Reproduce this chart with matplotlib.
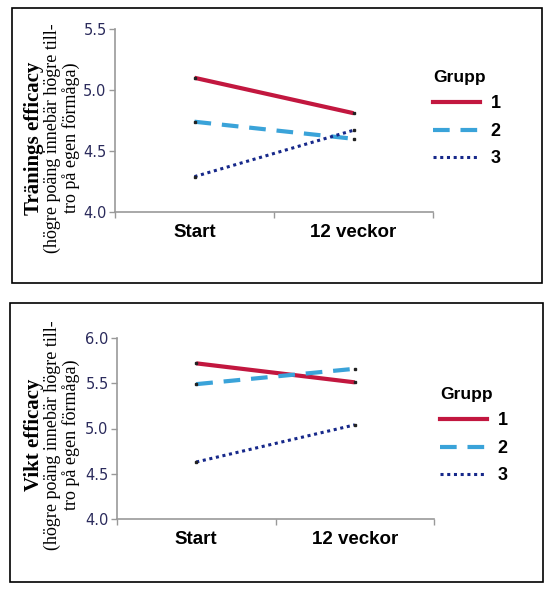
import matplotlib.pyplot as plt
from matplotlib.patches import Rectangle
from matplotlib.lines import Line2D

# data
categories = ["Start", "12 veckor"]
groups = ["1", "2", "3"]
traning = {"1": [5.10, 4.81], "2": [4.74, 4.60], "3": [4.29, 4.67]}
vikt = {"1": [5.72, 5.51], "2": [5.49, 5.66], "3": [4.63, 5.04]}
titles = ["Tränings efficacy", "Vikt efficacy"]
subtitle = "(högre poäng innebär högre till-\ntro på egen förmåga)"

W, H = 551, 593
colors = {"1": "#c2173f", "2": "#3aa3d9", "3": "#16288a"}
styles = {"1": "-", "2": (0, (4.0, 2.6)), "3": (0, (1.0, 1.2))}
widths = {"1": 3.0, "2": 3.0, "3": 2.2}


def px(x0, y0, x1, y1):
    """pixel box (top-left origin) -> figure rect"""
    return [x0 / W, 1 - y1 / H, (x1 - x0) / W, (y1 - y0) / H]


def panel(fig, box, axbox, data, ylim, yticks, title, legpos, labelcy):
    fig.patches.append(Rectangle((box[0] / W, 1 - box[3] / H), (box[2] - box[0]) / W,
                                 (box[3] - box[1]) / H, transform=fig.transFigure,
                                 fill=False, edgecolor="black", lw=1.2))
    ax = fig.add_axes(px(*axbox))
    for g in groups:
        ax.plot([0, 1], data[g], color=colors[g], linestyle=styles[g],
                lw=widths[g], dash_capstyle="butt", solid_capstyle="butt")
        ax.plot([0, 1], data[g], linestyle="none", marker="s", ms=2,
                color="#222222")
    ax.set_xlim(-0.5, 1.5)
    ax.set_ylim(*ylim)
    ax.set_yticks(yticks)
    ax.set_yticklabels([f"{t:.1f}" for t in yticks], color="#2b2b5c",
                       fontsize=10.5, family="DejaVu Sans")
    ax.set_xticks([0, 1])
    ax.set_xticklabels(categories, fontsize=13.5, fontweight="bold",
                       family="Liberation Sans")
    ax.set_xticks([-0.5, 0.5, 1.5], minor=True)
    ax.tick_params(axis="x", which="major", length=0, pad=9)
    ax.tick_params(axis="x", which="minor", length=4, color="#999999", width=1)
    ax.tick_params(axis="y", length=4, color="#999999", width=1, pad=2)
    for s in ["top", "right"]:
        ax.spines[s].set_visible(False)
    for s in ["left", "bottom"]:
        ax.spines[s].set_color("#999999")
        ax.spines[s].set_linewidth(1.2)

    cy = 1 - labelcy / H
    fig.text(34 / W, cy, title, rotation=90, ha="center", va="center",
             fontsize=15, fontweight="bold", family="Liberation Serif")
    fig.text(62 / W, cy, subtitle, rotation=90, ha="center", va="center",
             fontsize=13, family="Liberation Serif", linespacing=1.12,
             multialignment="center")

    handles = [Line2D([], [], color=colors[g], linestyle=styles[g], lw=widths[g],
                      dash_capstyle="butt") for g in groups]
    fig.legend(handles, groups, loc="upper left",
               bbox_to_anchor=(legpos[0] / W, 1 - legpos[1] / H),
               frameon=False, title="Grupp", alignment="left",
               handlelength=2.6, handletextpad=0.6, labelspacing=0.58,
               borderpad=0, borderaxespad=0,
               prop={"family": "Liberation Sans", "weight": "bold", "size": 13},
               title_fontproperties={"family": "Liberation Sans",
                                     "weight": "bold", "size": 12.5})
    return ax


fig = plt.figure(figsize=(W / 100, H / 100), dpi=100)
panel(fig, (12, 8, 542, 283), (115, 29, 433, 212), traning, (4.0, 5.5),
      [4.0, 4.5, 5.0, 5.5], titles[0], (433, 70), 138)
panel(fig, (10, 303, 543, 582), (117, 338, 434, 519), vikt, (4.0, 6.0),
      [4.0, 4.5, 5.0, 5.5, 6.0], titles[1], (440, 387), 435)

fig.savefig("out.png", dpi=100)
